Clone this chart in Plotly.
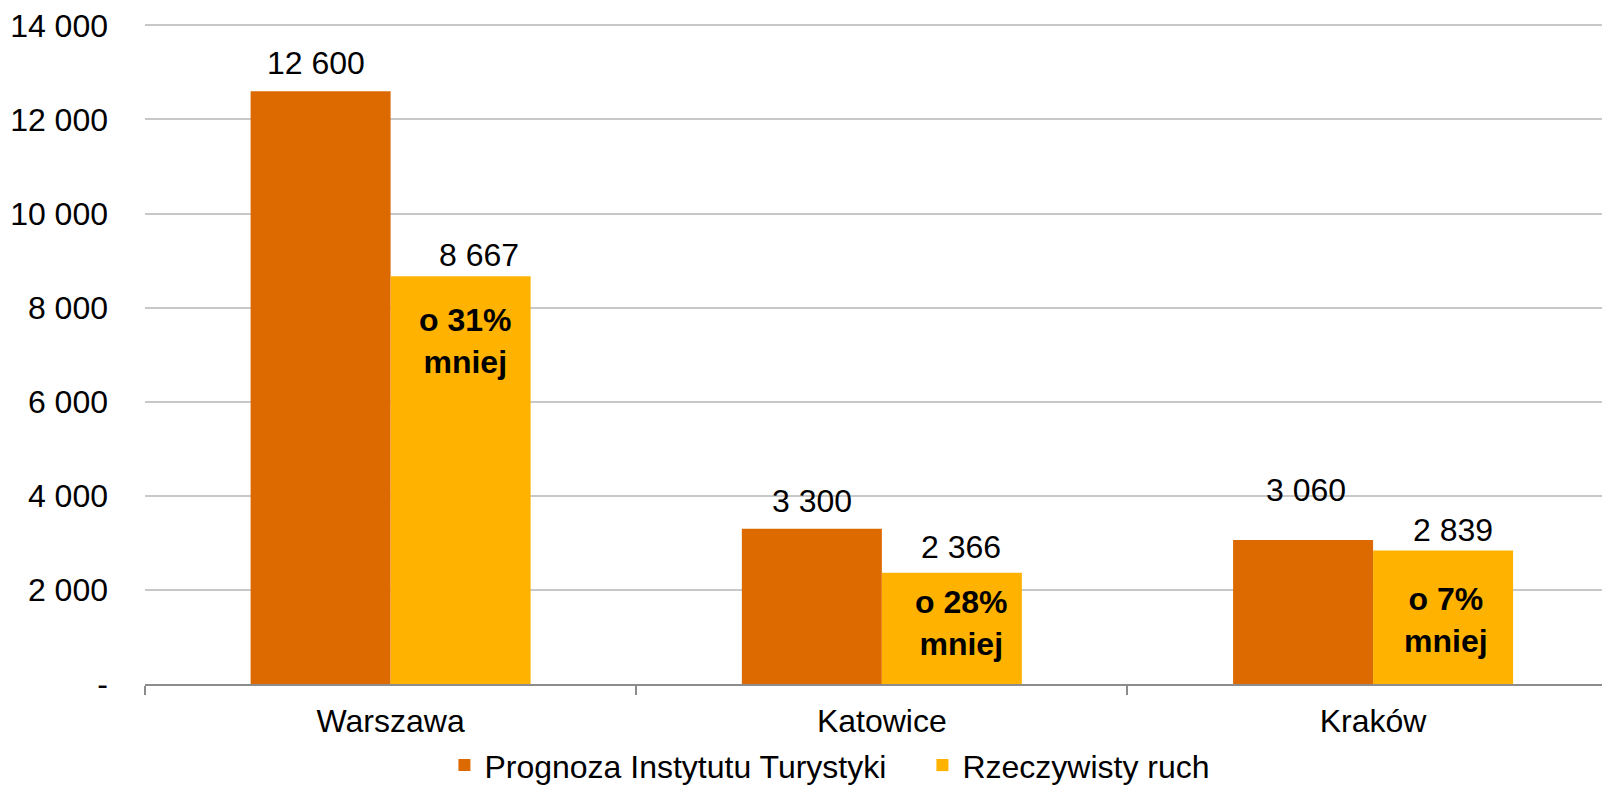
import plotly.graph_objects as go

# ---- data ----
categories = ["Warszawa", "Katowice", "Kraków"]
forecast = [12600, 3300, 3060]          # Prognoza Instytutu Turystyki
actual = [8667, 2366, 2839]             # Rzeczywisty ruch
diff_labels = ["o 31%<br>mniej", "o 28%<br>mniej", "o 7%<br>mniej"]
series_names = ["Prognoza Instytutu Turystyki", "Rzeczywisty ruch"]
y_tickvals = [0, 2000, 4000, 6000, 8000, 10000, 12000, 14000]
y_ticktext = ["-", "2 000", "4 000", "6 000", "8 000", "10 000", "12 000", "14 000"]

# ---- style / layout constants ----
ORANGE = "#DD6A00"
YELLOW = "#FFB300"
FONT = "Arial, Liberation Sans, sans-serif"
FS = 32
BAR_HALF_PX = 70
fc_label_dy = [28, 28, 50]     # px above bar top (label centre)
ac_label_dy = [21, 26, 20]
fc_label_dx = [-5, 0, 3]
ac_label_dx = [18, 9, 10]
note_dy = [-65, -50, -70]      # px from actual bar top to note centre
note_dx = [4, 9, 3]


def fmt(v):
    return f"{v:,}".replace(",", " ")


fig = go.Figure()
fig.add_trace(go.Bar(x=categories, y=forecast, name=series_names[0],
                     marker=dict(color=ORANGE, line=dict(width=0))))
fig.add_trace(go.Bar(x=categories, y=actual, name=series_names[1],
                     marker=dict(color=YELLOW, line=dict(width=0))))

annotations = []
for i, c in enumerate(categories):
    annotations.append(dict(x=c, y=forecast[i], text=fmt(forecast[i]), showarrow=False,
                            xshift=-BAR_HALF_PX + fc_label_dx[i], yshift=fc_label_dy[i],
                            yanchor="middle", font=dict(size=FS, color="black", family=FONT)))
    annotations.append(dict(x=c, y=actual[i], text=fmt(actual[i]), showarrow=False,
                            xshift=BAR_HALF_PX + ac_label_dx[i], yshift=ac_label_dy[i],
                            yanchor="middle", font=dict(size=FS, color="black", family=FONT)))
    annotations.append(dict(x=c, y=actual[i], text="<b>" + diff_labels[i].replace("<br>", "</b><br><b>") + "</b>",
                            showarrow=False,
                            xshift=BAR_HALF_PX + note_dx[i], yshift=note_dy[i],
                            yanchor="middle", align="center",
                            font=dict(size=FS, color="black", family=FONT)))

fig.update_layout(
    width=1602, height=787,
    margin=dict(l=145, r=0, t=23, b=103, autoexpand=False),
    paper_bgcolor="white", plot_bgcolor="white",
    barmode="group", bargap=0.43, bargroupgap=0,
    font=dict(family=FONT, size=FS, color="black"),
    showlegend=True,
    legend=dict(orientation="h", x=0.2055, xanchor="left", y=-0.123, yanchor="middle",
                font=dict(size=FS, family=FONT, color="black"),
                entrywidth=433, entrywidthmode="pixels",
                bgcolor="rgba(0,0,0,0)", itemclick=False),
    annotations=annotations,
    xaxis=dict(type="category", range=[-0.5, 2.466], showgrid=False, automargin=False,
               showline=True, linecolor="#8C8C8C", linewidth=2,
               ticks="outside", tickson="boundaries", ticklen=9, tickcolor="#8C8C8C",
               tickwidth=1.5, tickfont=dict(size=FS, family=FONT, color="black"),
               ticklabelstandoff=8, fixedrange=True),
    yaxis=dict(range=[0, 14050], tickvals=y_tickvals, ticktext=y_ticktext, automargin=False,
               showgrid=True, gridcolor="#C8C8C8", gridwidth=1.5,
               zeroline=False, showline=False, ticks="",
               tickfont=dict(size=FS, family=FONT, color="black"),
               ticklabelstandoff=36, fixedrange=True),
)

fig.write_html("out.html", config={"displayModeBar": False},
               post_script="document.body.style.margin='0';")
